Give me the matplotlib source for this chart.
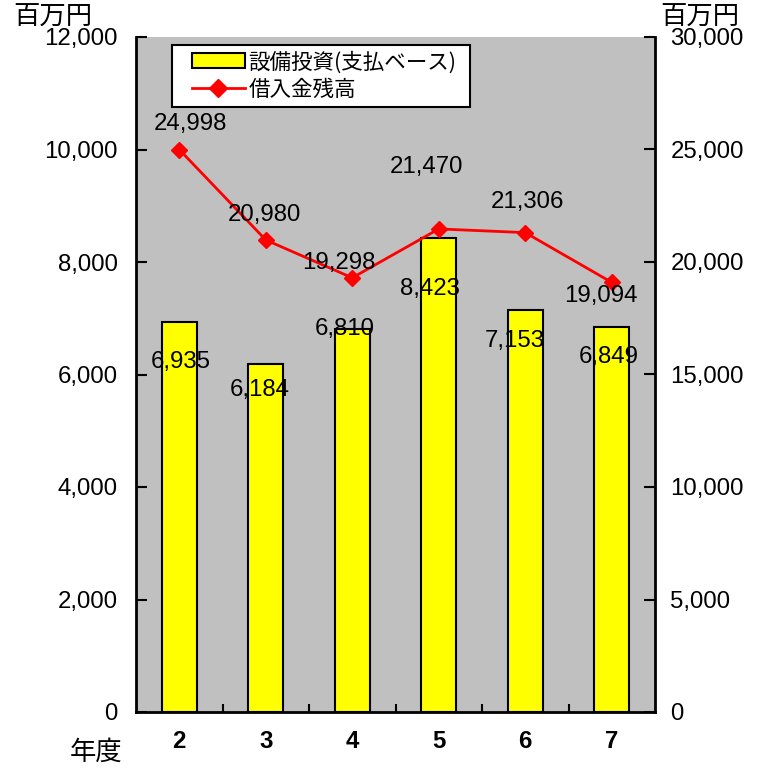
import matplotlib
matplotlib.use("Agg")
import matplotlib.pyplot as plt
from matplotlib.patches import Patch, Rectangle
from matplotlib.lines import Line2D

plt.rcParams['font.family'] = ['Liberation Sans', 'Noto Sans CJK JP', 'DejaVu Sans']

years = ["2", "3", "4", "5", "6", "7"]
capex = [6935, 6184, 6810, 8423, 7153, 6849]
debt = [24998, 20980, 19298, 21470, 21306, 19094]
left_ticks = [0, 2000, 4000, 6000, 8000, 10000, 12000]
right_ticks = [0, 5000, 10000, 15000, 20000, 25000, 30000]

# label offsets in pixels (style, not data)
bar_off = [(1, -40), (-6, -26), (-7, 0), (-9, -51), (-10, -31), (-3, -30)]
line_off = [(11, 26), (-1, 25), (-13, 15), (-12, 62), (2, 31), (-11, -14)]

FS = 17.3
W, H = 760, 769

fig = plt.figure(figsize=(7.6, 7.69), dpi=100)
ax = fig.add_axes([136/W, 57/H, 519/W, 675/H])
ax.set_facecolor('#c0c0c0')
x = list(range(len(years)))
ax.bar(x, capex, width=0.4, color='#ffff00', edgecolor='black', linewidth=1.5, zorder=2)
ax.set_xlim(-0.5, len(years) - 0.5)
ax.set_ylim(0, 12000)
ax.set_yticks(left_ticks)
ax.set_yticklabels([f"{v:,}" for v in left_ticks], fontsize=FS)
ax.set_xticks(x)
ax.set_xticklabels(years, fontsize=FS, fontweight='bold')
ax.set_xticks([i + 0.5 for i in range(len(years) - 1)], minor=True)
ax.tick_params(axis='x', which='major', length=0, pad=13)
ax.tick_params(axis='x', which='minor', direction='in', length=6, width=1.5)
ax.tick_params(axis='y', direction='in', length=8, width=1.5, pad=13)
for s in ['left', 'bottom']:
    ax.spines[s].set_linewidth(2)
ax.spines['top'].set_visible(False)
ax.spines['right'].set_visible(False)

for i, v in enumerate(capex):
    ax.annotate(f"{v:,}", (x[i], v), xytext=bar_off[i], textcoords='offset pixels',
                ha='center', va='center', fontsize=FS, zorder=5)

ax2 = ax.twinx()
ax2.plot(x, debt, color='#ff0000', linewidth=2, marker='D', markersize=8, zorder=3)
ax2.set_ylim(0, 30000)
ax2.set_yticks(right_ticks)
ax2.set_yticklabels([f"{v:,}" for v in right_ticks], fontsize=FS)
ax2.tick_params(axis='y', direction='in', length=8, width=1.5, pad=11)
ax2.spines['right'].set_linewidth(2)
ax2.spines['top'].set_visible(False)
ax2.spines['left'].set_visible(False)
ax2.spines['bottom'].set_visible(False)
for i, v in enumerate(debt):
    ax2.annotate(f"{v:,}", (x[i], v), xytext=line_off[i], textcoords='offset pixels',
                 ha='center', va='center', fontsize=FS, zorder=5)

# legend frame
frame = Rectangle((172/W, 1 - 107/H), 298/W, 62/H, transform=fig.transFigure,
                  facecolor='white', edgecolor='black', linewidth=1.5, zorder=4)
ax2.add_artist(frame)

handles = [Patch(facecolor='#ffff00', edgecolor='black', linewidth=1.5),
           Line2D([], [], color='#ff0000', linewidth=2, marker='D', markersize=9)]
leg = ax2.legend(handles, ['設備投資(支払ベース)', '借入金残高'], loc='upper left',
                 bbox_to_anchor=(192/W, 1 - 51/H), bbox_transform=fig.transFigure,
                 frameon=False, handlelength=2.45, borderpad=0,
                 labelspacing=0.25, handletextpad=0.18, borderaxespad=0,
                 prop={'family': ['Noto Sans CJK JP'], 'size': 15.5})
leg.set_zorder(6)

fig.text(13/W, 1 - 17/H, '百万円', fontsize=19, va='center', ha='left',
         family=['Noto Sans CJK JP'])
fig.text(660/W, 1 - 17/H, '百万円', fontsize=19, va='center', ha='left',
         family=['Noto Sans CJK JP'])
fig.text(70/W, 1 - 752/H, '年度', fontsize=19, va='center', ha='left',
         family=['Noto Sans CJK JP'])

fig.savefig('out.png', dpi=100)
